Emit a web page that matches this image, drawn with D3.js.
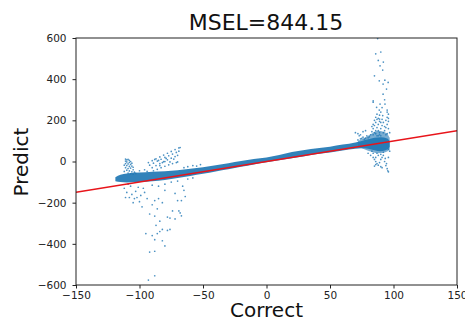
<!DOCTYPE html>
<html><head><meta charset="utf-8">
<script src="https://cdn.jsdelivr.net/npm/d3@7"></script>
<style>body{margin:0;background:#fff;} text{font-family:"DejaVu Sans",sans-serif;}</style>
</head><body><svg id="c" width="465" height="328"></svg>
<script>
const title = "MSEL=844.15";
const xLabel = "Correct";
const yLabel = "Predict";
const xTicks = [-150,-100,-50,0,50,100,150];
const yTicks = [-600,-400,-200,0,200,400,600];

// dense band of predictions
const bandX  = [-119,-115,-110,-100,-90,-80,-70,-60,-50,-40,-30,-20,-10,0,10,20,30,40,50,60,70,75,80,85,90,95,97];
const bandLo = [-96,-100,-102,-100,-96,-90,-80,-70,-60,-48,-38,-26,-14,-4,6,16,26,36,44,54,62,64,62,55,50,58,70];
const bandHi = [-76,-64,-58,-54,-50,-47,-42,-35,-28,-18,-8,2,12,20,32,46,56,64,72,82,92,100,108,115,118,112,100];

// semi-dense cloud at the high end
const cloudX  = [72,76,80,84,88,92,95,97];
const cloudLo = [70,62,52,45,40,42,48,60];
const cloudHi = [100,112,125,140,150,145,135,115];

// y = x reference line
const refX = [-150,150];

const leftSpike = [[-111,12],[-110,8],[-109,10],[-108,6],[-111,2],[-110,-2],[-108,-4],[-107,0],[-111,-10],[-109,-12],[-107,-14],[-110,-20],[-108,-24],[-106,-22],[-111,-30],[-109,-34],[-107,-32],[-105,-40],[-110,-42],[-108,-46],[-106,-50],[-104,-52],[-109,-56],[-107,-60],[-105,-62],[-103,-58],[-112,-48],[-112,-18],[-106,-8],[-105,-28]];

const fanPoints = [[-93,-5],[-90,4],[-87,13],[-84,22],[-81,31],[-78,40],[-75,49],[-72,58],[-69,66],[-68,68],
[-92,-18],[-89,-8],[-86,2],[-83,11],[-80,20],[-77,28],[-74,36],[-71,44],[-69,50],
[-90,-30],[-87,-20],[-84,-10],[-81,-1],[-78,8],[-75,16],[-72,24],[-70,30],
[-89,-45],[-86,-38],[-83,-30],[-80,-23],[-77,-16],[-74,-10],[-71,-5],[-70,-2],
[-88,10],[-85,5],[-82,-5],[-79,15],[-76,-2],[-73,12],[-80,0],[-84,-20],
[-100,-45],[-96,-40],[-94,-48],[-62,-25],[-58,-20],[-55,-22],[-52,-15],[-65,-30]];

const leftLow = [[-112,-130],[-110,-150],[-108,-175],[-106,-160],[-104,-180],[-102,-175],[-100,-195],[-98,-220],[-103,-145],[-107,-120],[-111,-175],[-105,-200],[-99,-165],[-96,-150],[-94,-180],[-97,-130],[-109,-110],[-101,-125],
[-92,-255],[-90,-210],[-88,-190],[-86,-230],[-84,-290],[-85,-180],[-82,-200],[-80,-140],[-78,-270],[-76,-275],[-74,-240],[-72,-155],[-70,-190],[-68,-250],[-69,-240],[-67,-264],[-72,-279],[-66,-120],[-65,-140],[-64,-170],[-67,-190],
[-86,-350],[-88,-380],[-84,-340],[-82,-330],[-90,-360],[-87,-310],[-80,-410],[-82,-385],[-78,-335],[-76,-330],[-92,-440],[-88,-436],[-93,-576],[-88,-555],[-95,-350],[-88,-265],
[-90,-115],[-85,-120],[-80,-110],[-75,-100],[-70,-95],[-62,-85],[-58,-80]];

const rightHigh = [[87.5,597],[86,523],[90,532],[88,491],[92,483],[89.4,465],[91.5,444],[85,416],[88.8,392],[93.2,395],[91.8,376],[95.8,384],[94.5,352],[91.8,327],[93,300],[84,295],[89.4,279],[93.3,279],[91,262],[88.8,250],[86.7,263],[84,288],[91.5,223],[89,206],[95,240],[96,210],
[82,130],[83,145],[84,160],[85,175],[86,190],[87,205],[85,140],[86,150],[87,165],[88,180],[89,195],[88,210],[89,225],[90,240],[87,230],[88,150],[89,140],[90,160],[91,175],[90,190],[91,205],[86,215],[84,180],[83,170],[85,200],[86,135],[87,125],[89,130],[90,125],[92,140],[93,150],[94,165],[95,180],[96,195],[94,200],[95,215],[96,160],[97,140],[95,135],[94,130],[93,170],[92,190],[96,230],[95,250],[88,125],[84,130],[81,120],[80,115],[79,125],[78,112],[77,108],[76,118],[75,112],[74,110],[72,105],
[70,140],[72,135],[74,130],[76,145],[78,150],[73,125]];

const rightLow = [[80,40],[82,30],[84,20],[85,10],[86,0],[87,-10],[88,-18],[85,-22],[86,-15],[89,-5],[90,10],[91,20],[92,30],[93,0],[94,-20],[95,-35],[96,-50],[95.5,-45],[94.5,-10],[93.5,15],[92,45],[90,35],[88,30],[87,40],[96,20],[96,60],[97,50],[91,-30],[90,-25],[84,40],[83,50],[86,20]];

const svg = d3.select("#c");
const x = d3.scaleLinear().domain([-150,150]).range([76,457]);
const y = d3.scaleLinear().domain([-600,600]).range([285,38]);
const blue = "#1f77b4";

const plot = svg.append("g");
plot.append("clipPath").attr("id","clip").append("rect")
  .attr("x",76).attr("y",38).attr("width",381).attr("height",247);
const g = plot.append("g").attr("clip-path","url(#clip)");

const area = d3.area().x(d=>x(d.x)).y0(d=>y(d.lo)).y1(d=>y(d.hi)).curve(d3.curveMonotoneX);
const cloud = cloudX.map((v,i)=>({x:v,lo:cloudLo[i],hi:cloudHi[i]}));
g.append("path").datum(cloud).attr("fill",blue).attr("opacity",0.6).attr("d",area);

const band = bandX.map((v,i)=>({x:v,lo:bandLo[i],hi:bandHi[i]}));
g.append("path").datum(band).attr("fill",blue).attr("opacity",0.92).attr("d",area);

const pts = [].concat(leftSpike, fanPoints, leftLow, rightHigh, rightLow);
g.selectAll("circle.p").data(pts).join("circle")
  .attr("class","p")
  .attr("cx",d=>x(d[0])).attr("cy",d=>y(d[1])).attr("r",0.85)
  .attr("fill",blue).attr("opacity",0.8);

g.append("path").datum(refX)
  .attr("fill","none").attr("stroke","#e8141a").attr("stroke-width",1.5)
  .attr("d", d3.line().x(d=>x(d)).y(d=>y(d)));

// axes
const xa = svg.append("g").attr("transform","translate(0,285)")
  .call(d3.axisBottom(x).tickValues(xTicks).tickSize(3.5).tickPadding(3.5));
const ya = svg.append("g").attr("transform","translate(76,0)")
  .call(d3.axisLeft(y).tickValues(yTicks).tickSize(3.5).tickPadding(6));
[xa,ya].forEach(a=>{
  a.select(".domain").remove();
  a.selectAll("text").attr("font-size","10.5px").attr("fill","#222").attr("font-family","DejaVu Sans, sans-serif");
  a.selectAll("line").attr("stroke","#222");
});

svg.append("rect").attr("x",76).attr("y",38).attr("width",381).attr("height",247)
  .attr("fill","none").attr("stroke","#222").attr("stroke-width",1);

svg.append("text").attr("x",266).attr("y",30).attr("text-anchor","middle")
  .attr("font-size","22px").attr("fill","#111").text(title);
svg.append("text").attr("x",266.5).attr("y",317).attr("text-anchor","middle")
  .attr("font-size","20px").attr("fill","#111").text(xLabel);
svg.append("text").attr("transform","translate(28,162) rotate(-90)").attr("text-anchor","middle")
  .attr("font-size","20px").attr("fill","#111").text(yLabel);
</script></body></html>
